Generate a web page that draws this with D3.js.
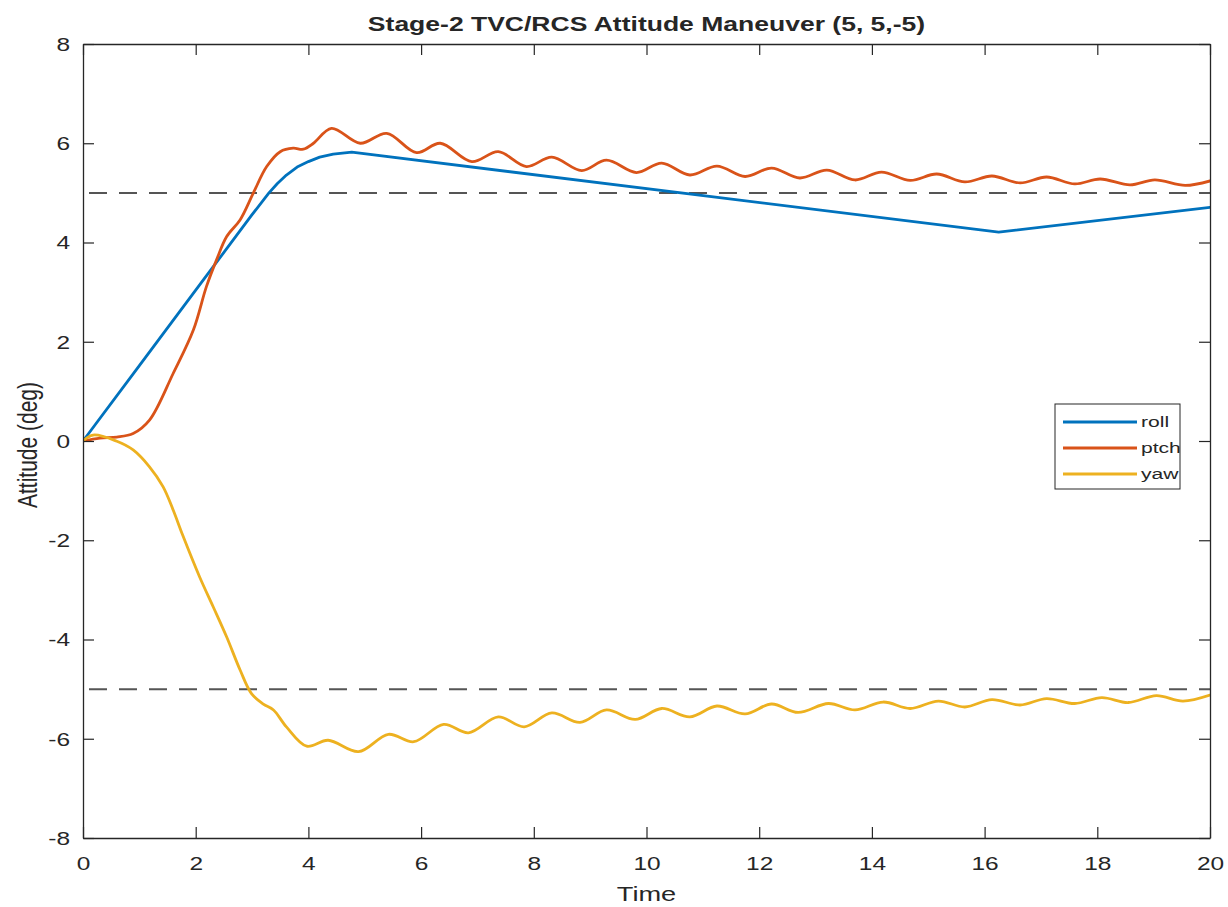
<!DOCTYPE html>
<html>
<head>
<meta charset="utf-8">
<script src="https://cdn.jsdelivr.net/npm/d3@7"></script>
<style>
  html, body { margin: 0; padding: 0; background: #fff; }
  svg { display: block; }
  text { font-family: "Liberation Sans", Arial, Helvetica, sans-serif; fill: #262626; }
</style>
</head>
<body>
<svg id="chart" width="1228" height="907"></svg>
<script>
// Attitude histories (deg) against time (s)
const rollT = [0, 1, 2, 3, 3.3, 3.45, 3.61, 3.8, 4.0, 4.2, 4.44, 4.77, 16.25, 20];
const rollV = [0, 1.52, 3.04, 4.56, 5.0, 5.19, 5.36, 5.52, 5.63, 5.72, 5.78, 5.82, 4.21, 4.71];

const ptchT = [0, 0.3, 0.6, 0.89, 1.18, 1.6, 1.96, 2.19, 2.37, 2.55, 2.79, 3.02, 3.26, 3.5, 3.73, 3.91, 4.09, 4.41,
  4.92, 5.39, 5.92, 6.34, 6.9, 7.37, 7.87, 8.32, 8.85, 9.29, 9.82, 10.27, 10.77, 11.25, 11.75, 12.22, 12.72, 13.2,
  13.7, 14.17, 14.68, 15.15, 15.65, 16.13, 16.63, 17.1, 17.6, 18.05, 18.58, 19.02, 19.56, 20];
const ptchV = [0, 0.06, 0.08, 0.15, 0.42, 1.36, 2.24, 3.11, 3.65, 4.12, 4.46, 4.99, 5.53, 5.83, 5.9, 5.88, 6.0, 6.3,
  6.0, 6.2, 5.81, 6.0, 5.63, 5.83, 5.53, 5.72, 5.45, 5.66, 5.41, 5.6, 5.36, 5.54, 5.33, 5.5, 5.3, 5.46,
  5.26, 5.42, 5.25, 5.38, 5.22, 5.34, 5.2, 5.32, 5.18, 5.28, 5.16, 5.26, 5.15, 5.24];

const yawT = [0, 0.18, 0.59, 0.89, 1.18, 1.42, 1.6, 1.77, 2.07, 2.31, 2.55, 2.79, 2.99, 3.2, 3.38, 3.61, 3.97, 4.35, 4.89,
  5.42, 5.87, 6.4, 6.84, 7.37, 7.83, 8.32, 8.82, 9.29, 9.8, 10.27, 10.77, 11.25, 11.75, 12.22, 12.69, 13.23,
  13.7, 14.2, 14.68, 15.18, 15.65, 16.13, 16.63, 17.1, 17.6, 18.08, 18.55, 19.05, 19.52, 20];
const yawV = [0, 0.12, 0.0, -0.18, -0.52, -0.92, -1.39, -1.9, -2.74, -3.34, -3.95, -4.62, -5.09, -5.3, -5.42, -5.76, -6.15, -6.03, -6.26,
  -5.91, -6.06, -5.71, -5.88, -5.56, -5.76, -5.48, -5.67, -5.42, -5.61, -5.39, -5.56, -5.34, -5.5, -5.3, -5.47, -5.29,
  -5.42, -5.26, -5.39, -5.24, -5.36, -5.21, -5.32, -5.19, -5.29, -5.17, -5.27, -5.13, -5.24, -5.12];

// Commanded attitude bounds
const targetLevels = [5, -5];

const seriesNames = ["roll", "ptch", "yaw"];
const seriesColors = ["#0072BD", "#D95319", "#EDB120"];

const xTicks = [0, 2, 4, 6, 8, 10, 12, 14, 16, 18, 20];
const yTicks = [-8, -6, -4, -2, 0, 2, 4, 6, 8];

const titleText = "Stage-2 TVC/RCS Attitude Maneuver (5, 5,-5)";
const xLabel = "Time";
const yLabel = "Attitude (deg)";

// ---- layout ----
const W = 1228, H = 907;
const L = 83, R = 1210, T = 44, B = 838;
const SX = 1.36;          // horizontal glyph stretch of the figure text
const axisColor = "#262626";
const fmt = d => String(d); // plain hyphen-minus for negatives

const svg = d3.select("#chart");
svg.append("rect").attr("width", W).attr("height", H).attr("fill", "#fff");

const x = d3.scaleLinear().domain([0, 20]).range([L, R]);
const y = d3.scaleLinear().domain([-8, 8]).range([B, T]);

svg.append("defs").append("clipPath").attr("id", "plotClip")
  .append("rect").attr("x", L).attr("y", T).attr("width", R - L).attr("height", B - T);

const plot = svg.append("g").attr("clip-path", "url(#plotClip)");

// dashed target lines
plot.selectAll("line.target").data(targetLevels).enter().append("line")
  .attr("class", "target")
  .attr("x1", x(0)).attr("x2", x(20))
  .attr("y1", d => y(d)).attr("y2", d => y(d))
  .attr("stroke", "#555").attr("stroke-width", 2)
  .attr("stroke-dasharray", "18,12")
  .attr("stroke-dashoffset", -6);

const series = [
  { t: rollT, v: rollV, curve: d3.curveLinear },
  { t: ptchT, v: ptchV, curve: d3.curveCatmullRom.alpha(0.5) },
  { t: yawT, v: yawV, curve: d3.curveCatmullRom.alpha(0.5) }
];

series.forEach((s, i) => {
  const pts = s.t.map((t, k) => [t, s.v[k]]);
  const line = d3.line().x(d => x(d[0])).y(d => y(d[1])).curve(s.curve);
  plot.append("path")
    .attr("d", line(pts))
    .attr("fill", "none")
    .attr("stroke", seriesColors[i])
    .attr("stroke-width", 2.8)
    .attr("stroke-linejoin", "round")
    .attr("stroke-linecap", "round");
});

// ---- axes (ticks point inward, box on) ----
function styleAxis(g) {
  g.select(".domain").attr("stroke", axisColor).attr("stroke-width", 1.3);
  g.selectAll(".tick line").attr("stroke", axisColor).attr("stroke-width", 1.2);
}

const xAxis = svg.append("g").attr("transform", `translate(0,${B})`)
  .call(d3.axisBottom(x).tickValues(xTicks).tickSizeInner(-11).tickSizeOuter(0).tickFormat(fmt));
styleAxis(xAxis);
xAxis.selectAll(".tick text")
  .attr("x", null).attr("y", null).attr("dy", null)
  .attr("transform", `translate(0,32) scale(${SX},1)`)
  .attr("text-anchor", "middle")
  .style("font-size", "18px").attr("fill", axisColor);

const yAxis = svg.append("g").attr("transform", `translate(${L},0)`)
  .call(d3.axisLeft(y).tickValues(yTicks).tickSizeInner(-11).tickSizeOuter(0).tickFormat(fmt));
styleAxis(yAxis);
yAxis.selectAll(".tick text")
  .attr("x", null).attr("y", null).attr("dy", "0.36em")
  .attr("transform", `translate(-13,0) scale(${SX},1)`)
  .attr("text-anchor", "end")
  .style("font-size", "18px").attr("fill", axisColor);

const xTop = svg.append("g").attr("transform", `translate(0,${T})`)
  .call(d3.axisTop(x).tickValues(xTicks).tickSizeInner(-11).tickSizeOuter(0).tickFormat(""));
styleAxis(xTop);

const yRight = svg.append("g").attr("transform", `translate(${R},0)`)
  .call(d3.axisRight(y).tickValues(yTicks).tickSizeInner(-11).tickSizeOuter(0).tickFormat(""));
styleAxis(yRight);

// ---- title and axis labels ----
svg.append("text")
  .attr("transform", `translate(${(L + R) / 2},31) scale(${SX},1)`)
  .attr("text-anchor", "middle")
  .style("font-size", "19.5px").style("font-weight", "bold")
  .attr("fill", "#000")
  .text(titleText);

svg.append("text")
  .attr("transform", `translate(${(L + R) / 2},901) scale(${SX},1)`)
  .attr("text-anchor", "middle")
  .style("font-size", "20px")
  .text(xLabel);

svg.append("text")
  .attr("transform", `translate(37,${(T + B) / 2 + 4}) scale(${SX},1) rotate(-90)`)
  .attr("text-anchor", "middle")
  .style("font-size", "21px")
  .text(yLabel);

// ---- legend ----
const lg = svg.append("g").attr("transform", "translate(1055,404)");
lg.append("rect").attr("width", 125).attr("height", 85)
  .attr("fill", "#fff").attr("stroke", axisColor).attr("stroke-width", 1);
seriesNames.forEach((name, i) => {
  const yy = 18 + i * 26;
  lg.append("line").attr("x1", 8).attr("x2", 82).attr("y1", yy).attr("y2", yy)
    .attr("stroke", seriesColors[i]).attr("stroke-width", 2.8);
  lg.append("text")
    .attr("transform", `translate(86,${yy}) scale(${SX},1)`)
    .attr("dy", "0.35em")
    .style("font-size", "15.5px")
    .attr("fill", "#000")
    .text(name);
});
</script>
</body>
</html>
